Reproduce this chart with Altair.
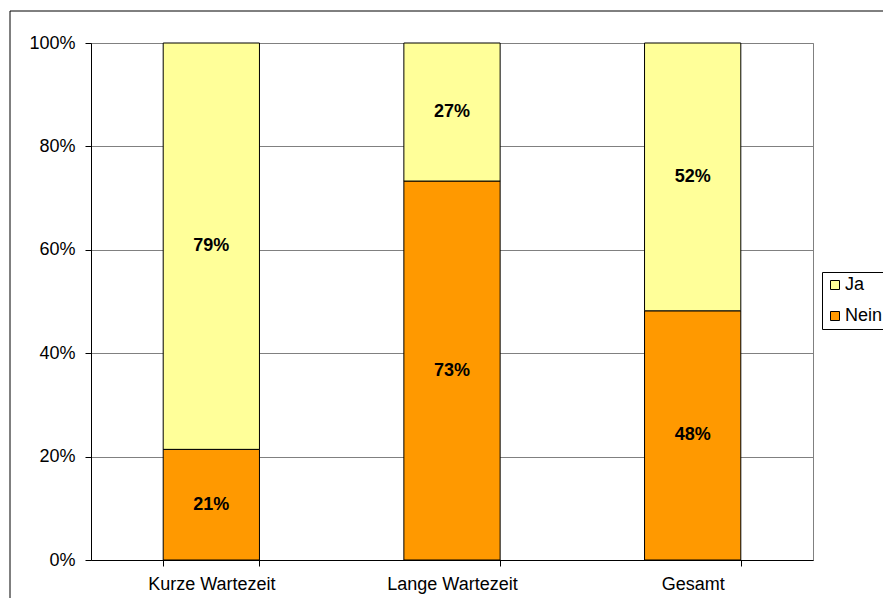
import altair as alt
import pandas as pd

categories = ["Kurze Wartezeit", "Lange Wartezeit", "Gesamt"]
nein = [21.4, 73.3, 48.2]
ja = [78.6, 26.7, 51.8]
series = ["Ja", "Nein"]
colors = ["#FFFF99", "#FF9900"]
y_ticks = [0, 0.2, 0.4, 0.6, 0.8, 1.0]

rows = []
for i, c in enumerate(categories):
    rows.append({"cat": c, "series": "Nein", "value": nein[i], "ord": 0})
    rows.append({"cat": c, "series": "Ja", "value": ja[i], "ord": 1})
df = pd.DataFrame(rows)

FONT = "Liberation Sans"
FS = 18
W, H = 722, 517

base = alt.Chart(df).transform_stack(
    stack="value", groupby=["cat"], as_=["s0", "s1"],
    sort=[alt.SortField("ord", order="ascending")]
).transform_calculate(
    y0="datum.s0/100", y1="datum.s1/100",
    mid="(datum.s0+datum.s1)/200", frac="datum.value/100"
)

xenc = alt.X("cat:N", sort=categories, title=None,
             scale=alt.Scale(paddingInner=0.6, paddingOuter=0.3),
             axis=alt.Axis(labelAngle=0, tickBand="extent", tickSize=6,
                           tickColor="#000000", domainColor="#000000",
                           labelFont=FONT, labelFontSize=FS, labelColor="#000000",
                           labelPadding=9, grid=False))

bars = base.mark_bar(stroke="#000000", strokeWidth=1).encode(
    x=xenc,
    y=alt.Y("y0:Q", title=None, scale=alt.Scale(domain=[0, 1], nice=False),
            axis=alt.Axis(values=y_ticks, format=".0%", tickSize=6,
                          tickColor="#000000", domainColor="#000000",
                          gridColor="#808080", grid=True,
                          labelFont=FONT, labelFontSize=FS, labelColor="#000000",
                          labelPadding=10)),
    y2="y1:Q",
    color=alt.Color("series:N", scale=alt.Scale(domain=series, range=colors),
                    legend=alt.Legend(title=None, orient="none", legendX=731, legendY=229,
                                      symbolType="square", symbolSize=81,
                                      symbolStrokeColor="#000000", symbolStrokeWidth=1,
                                      symbolOpacity=1,
                                      labelFont=FONT, labelFontSize=FS, labelColor="#000000",
                                      strokeColor="#000000", padding=4, rowPadding=13,
                                      labelOffset=1)),
)

labels = base.mark_text(font=FONT, fontSize=FS, fontWeight="bold", color="#000000").encode(
    x=alt.X("cat:N", sort=categories),
    y=alt.Y("mid:Q"),
    text=alt.Text("frac:Q", format=".0%"),
)

frame = alt.Chart(alt.Data(values=[{}])).mark_rect(
    fill="transparent", stroke="#000000", strokeWidth=1
).encode(x=alt.value(-81), y=alt.value(-32), x2=alt.value(W + 200), y2=alt.value(H + 200))

chart = alt.layer(frame, bars, labels).properties(
    width=W, height=H,
    padding={"left": 83, "top": 35, "right": 70, "bottom": 38},
    autosize=alt.AutoSizeParams(type="none"),
).configure_view(stroke="#808080", strokeWidth=1).configure_axis(
    domainWidth=1, gridWidth=1
)

chart.save("out.html", embed_options={"renderer": "svg", "actions": False})
